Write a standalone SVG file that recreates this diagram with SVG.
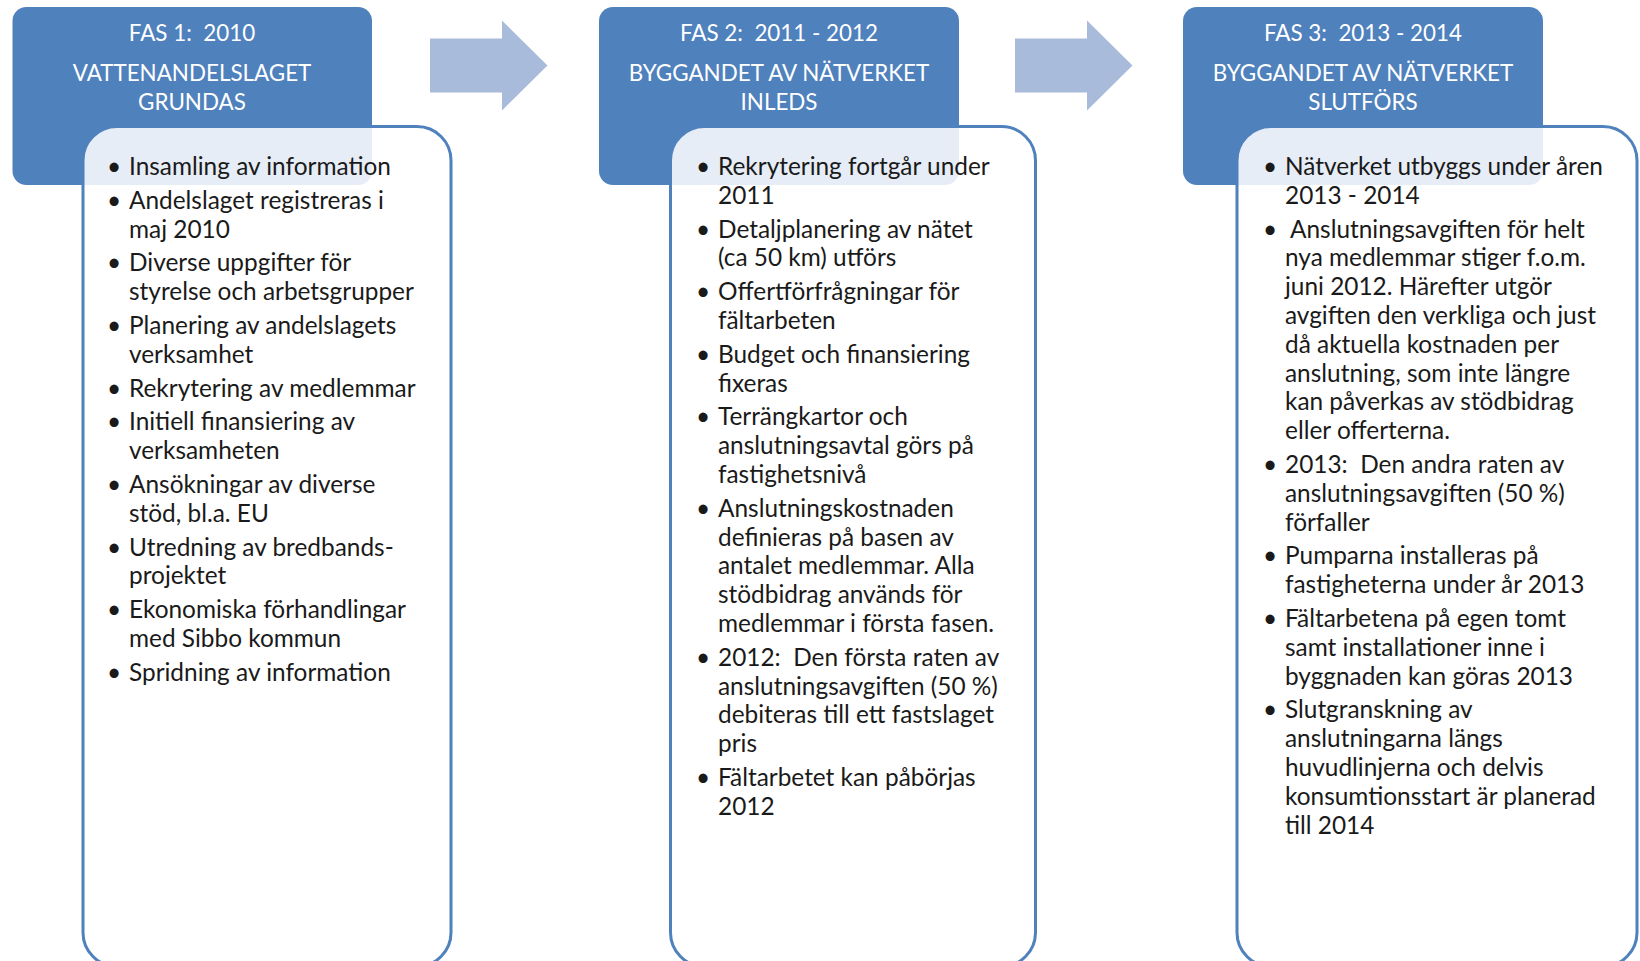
<svg xmlns="http://www.w3.org/2000/svg" width="1640" height="961" viewBox="0 0 1640 961">
<style>
.hdr{fill:#4F81BD;}
.body{fill:#FFFFFF;fill-opacity:0.86;stroke:#4F81BD;stroke-width:3;}
.arrow{fill:#A8BBDA;}
.t{font-family:Lato,"Liberation Sans",sans-serif;font-size:24.4px;fill:#1a1a1a;white-space:pre;}
.h{font-family:Lato,"Liberation Sans",sans-serif;font-size:22.4px;fill:#FFFFFF;text-anchor:middle;white-space:pre;}
</style>
<rect width="1640" height="961" fill="#FFFFFF"/>
<g id="connectors">
<polygon class="arrow" points="430,38.5 502,38.5 502,20.5 547.5,65.5 502,110.5 502,92.5 430,92.5"/>
<polygon class="arrow" points="1015,38.5 1087,38.5 1087,20.5 1132.5,65.5 1087,110.5 1087,92.5 1015,92.5"/>
</g>
<g id="phase1-header">
<rect class="hdr" x="12.5" y="7" width="359.5" height="178" rx="14"/>
<text class="h"><tspan x="192" y="41">FAS 1:  2010</tspan><tspan x="192" y="81">VATTENANDELSLAGET</tspan><tspan x="192" y="109.5">GRUNDAS</tspan></text>
</g>
<g id="phase2-header">
<rect class="hdr" x="599" y="7" width="360" height="178" rx="14"/>
<text class="h"><tspan x="779" y="41">FAS 2:  2011 - 2012</tspan><tspan x="779" y="81">BYGGANDET AV NÄTVERKET</tspan><tspan x="779" y="109.5">INLEDS</tspan></text>
</g>
<g id="phase3-header">
<rect class="hdr" x="1183" y="7" width="360" height="178" rx="14"/>
<text class="h"><tspan x="1363" y="41">FAS 3:  2013 - 2014</tspan><tspan x="1363" y="81">BYGGANDET AV NÄTVERKET</tspan><tspan x="1363" y="109.5">SLUTFÖRS</tspan></text>
</g>
<g id="phase1-body">
<rect class="body" x="83" y="126.5" width="368" height="840" rx="34"/>
<text class="t">
<tspan x="107" y="175">•</tspan><tspan x="129" y="175">Insamling av information</tspan>
<tspan x="107" y="208.8">•</tspan><tspan x="129" y="208.8">Andelslaget registreras i</tspan>
<tspan x="129" y="237.6">maj 2010</tspan>
<tspan x="107" y="271.4">•</tspan><tspan x="129" y="271.4">Diverse uppgifter för</tspan>
<tspan x="129" y="300.2">styrelse och arbetsgrupper</tspan>
<tspan x="107" y="334">•</tspan><tspan x="129" y="334">Planering av andelslagets</tspan>
<tspan x="129" y="362.8">verksamhet</tspan>
<tspan x="107" y="396.6">•</tspan><tspan x="129" y="396.6">Rekrytering av medlemmar</tspan>
<tspan x="107" y="430.4">•</tspan><tspan x="129" y="430.4">Initiell finansiering av</tspan>
<tspan x="129" y="459.2">verksamheten</tspan>
<tspan x="107" y="493">•</tspan><tspan x="129" y="493">Ansökningar av diverse</tspan>
<tspan x="129" y="521.8">stöd, bl.a. EU</tspan>
<tspan x="107" y="555.6">•</tspan><tspan x="129" y="555.6">Utredning av bredbands-</tspan>
<tspan x="129" y="584.4">projektet</tspan>
<tspan x="107" y="618.2">•</tspan><tspan x="129" y="618.2">Ekonomiska förhandlingar</tspan>
<tspan x="129" y="647">med Sibbo kommun</tspan>
<tspan x="107" y="680.8">•</tspan><tspan x="129" y="680.8">Spridning av information</tspan>
</text>
</g>
<g id="phase2-body">
<rect class="body" x="670.5" y="126.5" width="365" height="840" rx="34"/>
<text class="t">
<tspan x="696" y="175">•</tspan><tspan x="718" y="175">Rekrytering fortgår under</tspan>
<tspan x="718" y="203.8">2011</tspan>
<tspan x="696" y="237.6">•</tspan><tspan x="718" y="237.6">Detaljplanering av nätet</tspan>
<tspan x="718" y="266.4">(ca 50 km) utförs</tspan>
<tspan x="696" y="300.2">•</tspan><tspan x="718" y="300.2">Offertförfrågningar för</tspan>
<tspan x="718" y="329">fältarbeten</tspan>
<tspan x="696" y="362.8">•</tspan><tspan x="718" y="362.8">Budget och finansiering</tspan>
<tspan x="718" y="391.6">fixeras</tspan>
<tspan x="696" y="425.4">•</tspan><tspan x="718" y="425.4">Terrängkartor och</tspan>
<tspan x="718" y="454.2">anslutningsavtal görs på</tspan>
<tspan x="718" y="483">fastighetsnivå</tspan>
<tspan x="696" y="516.8">•</tspan><tspan x="718" y="516.8">Anslutningskostnaden</tspan>
<tspan x="718" y="545.6">definieras på basen av</tspan>
<tspan x="718" y="574.4">antalet medlemmar. Alla</tspan>
<tspan x="718" y="603.2">stödbidrag används för</tspan>
<tspan x="718" y="632">medlemmar i första fasen.</tspan>
<tspan x="696" y="665.8">•</tspan><tspan x="718" y="665.8">2012:  Den första raten av</tspan>
<tspan x="718" y="694.6">anslutningsavgiften (50 %)</tspan>
<tspan x="718" y="723.4">debiteras till ett fastslaget</tspan>
<tspan x="718" y="752.2">pris</tspan>
<tspan x="696" y="786">•</tspan><tspan x="718" y="786">Fältarbetet kan påbörjas</tspan>
<tspan x="718" y="814.8">2012</tspan>
</text>
</g>
<g id="phase3-body">
<rect class="body" x="1237" y="126.5" width="400" height="840" rx="34"/>
<text class="t">
<tspan x="1263" y="175">•</tspan><tspan x="1285" y="175">Nätverket utbyggs under åren</tspan>
<tspan x="1285" y="203.8">2013 - 2014</tspan>
<tspan x="1263" y="237.6">•</tspan><tspan x="1290" y="237.6">Anslutningsavgiften för helt</tspan>
<tspan x="1285" y="266.4">nya medlemmar stiger f.o.m.</tspan>
<tspan x="1285" y="295.2">juni 2012. Härefter utgör</tspan>
<tspan x="1285" y="324">avgiften den verkliga och just</tspan>
<tspan x="1285" y="352.8">då aktuella kostnaden per</tspan>
<tspan x="1285" y="381.6">anslutning, som inte längre</tspan>
<tspan x="1285" y="410.4">kan påverkas av stödbidrag</tspan>
<tspan x="1285" y="439.2">eller offerterna.</tspan>
<tspan x="1263" y="473">•</tspan><tspan x="1285" y="473">2013:  Den andra raten av</tspan>
<tspan x="1285" y="501.8">anslutningsavgiften (50 %)</tspan>
<tspan x="1285" y="530.6">förfaller</tspan>
<tspan x="1263" y="564.4">•</tspan><tspan x="1285" y="564.4">Pumparna installeras på</tspan>
<tspan x="1285" y="593.2">fastigheterna under år 2013</tspan>
<tspan x="1263" y="627">•</tspan><tspan x="1285" y="627">Fältarbetena på egen tomt</tspan>
<tspan x="1285" y="655.8">samt installationer inne i</tspan>
<tspan x="1285" y="684.6">byggnaden kan göras 2013</tspan>
<tspan x="1263" y="718.4">•</tspan><tspan x="1285" y="718.4">Slutgranskning av</tspan>
<tspan x="1285" y="747.2">anslutningarna längs</tspan>
<tspan x="1285" y="776">huvudlinjerna och delvis</tspan>
<tspan x="1285" y="804.8">konsumtionsstart är planerad</tspan>
<tspan x="1285" y="833.6">till 2014</tspan>
</text>
</g>
</svg>
